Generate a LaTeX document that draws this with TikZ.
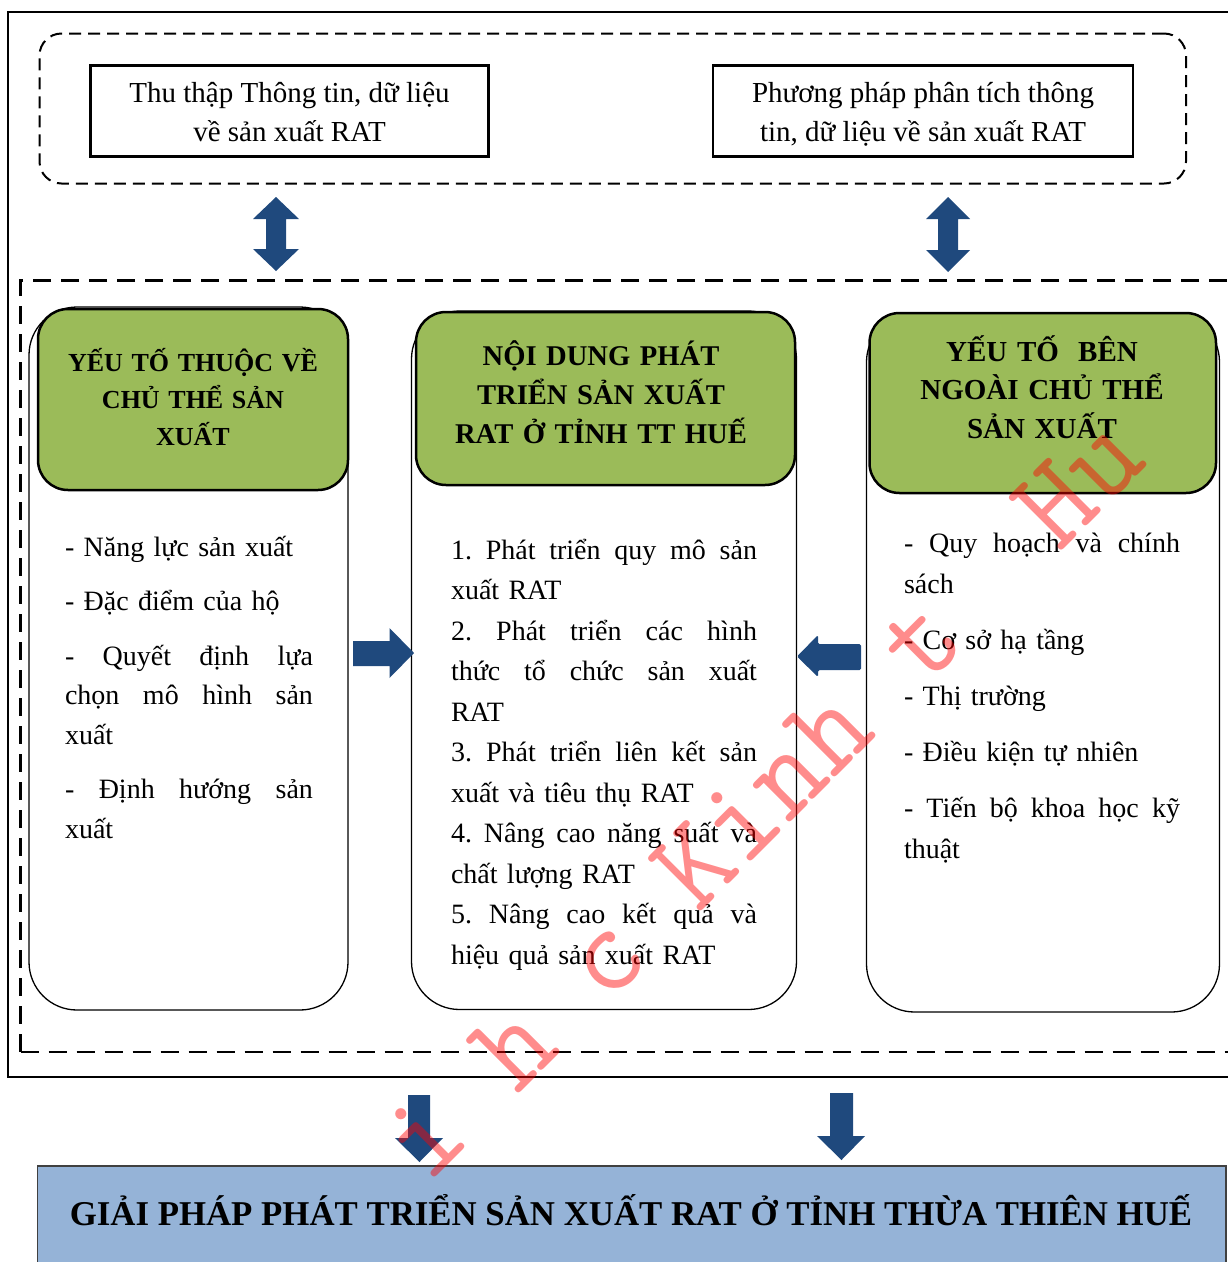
\documentclass[tikz,border=0pt]{standalone}
\usepackage{fontspec}
\setmainfont{Liberation Serif}
\definecolor{hgreen}{HTML}{9BBB59}
\definecolor{hblue}{HTML}{95B3D7}
\definecolor{arrowblue}{RGB}{31,73,125}
\newcommand{\jl}[2]{\leavevmode\hbox to #1{\spaceskip=0.25em plus 1fil\relax\xspaceskip=0.25em plus 1fil\relax #2}}
\begin{document}
\begin{tikzpicture}[x=1pt,y=-1pt,
  every node/.style={inner sep=0pt, outer sep=0pt},
  outerframe/.style={draw, line width=2.6pt},
  topframe/.style={draw, line width=2pt, dash pattern=on 12pt off 7pt, rounded corners=22pt},
  mainframe/.style={draw, line width=2.5pt, dash pattern=on 18pt off 10pt},
  infobox/.style={draw, line width=2.5pt, fill=white},
  colbox/.style={draw, line width=1.3pt, rounded corners=48pt, fill=white},
  headbox/.style={draw, line width=2.5pt, rounded corners=30pt, fill=hgreen},
  solbox/.style={draw=black!75, line width=1.5pt, fill=hblue},
  boxtext/.style={align=center, font=\fontsize{29}{39}\selectfont, anchor=north},
  headtext/.style={align=center, text width=330pt, anchor=north},
  coltext/.style={align=left, anchor=north west},
  blockarrow/.style={fill=arrowblue},
  watermark/.style={font=\ttfamily\fontsize{124}{124}\selectfont, text=red, text opacity=0.45, rotate=45}
]
\useasboundingbox (0,0) rectangle (1228,1262);
\clip (0,0) rectangle (1228,1262);

% frames
\node[outerframe, minimum width=1242pt, minimum height=1065pt] (outer) at (629,544.5) {};
\node[topframe, minimum width=1146.5pt, minimum height=150pt] (tframe) at (612.75,108.5) {};
\node[mainframe, minimum width=1239.5pt, minimum height=771.5pt] (mframe) at (640.25,666.25) {};

% top boxes
\node[infobox, minimum width=398pt, minimum height=91pt] (collect) at (289.5,111) {};
\node[infobox, minimum width=420pt, minimum height=91pt] (analyze) at (923,111) {};
\node[boxtext] (collecttext) at (289.5,74.5) {\rule{0pt}{28pt}Thu thập Thông tin, dữ liệu\\về sản xuất RAT};
\node[boxtext] (analyzetext) at (923,74.5) {\rule{0pt}{28pt}Phương pháp phân tích thông\\tin, dữ liệu về sản xuất RAT};

% column boxes
\node[colbox, minimum width=319pt, minimum height=703pt] (leftbox) at (188.5,658.5) {};
\node[colbox, minimum width=385pt, minimum height=698.5pt] (midbox) at (604,660.25) {};
\node[colbox, minimum width=353pt, minimum height=698pt] (rightbox) at (1043,663) {};
\node[headbox, minimum width=310pt, minimum height=181pt] (lefthead) at (193,399.5) {};
\node[headbox, minimum width=379pt, minimum height=173pt] (midhead) at (605.5,398.5) {};
\node[headbox, minimum width=346.5pt, minimum height=180pt] (righthead) at (1042.75,403) {};

% header texts
\node[headtext, font=\bfseries\fontsize{26}{37}\selectfont] (leftheadtext) at (193,343)
  {\rule{0pt}{28pt}YẾU TỐ THUỘC VỀ\\CHỦ THỂ SẢN\\XUẤT};
\node[headtext, font=\bfseries\fontsize{28.6}{39}\selectfont] (midheadtext) at (601,337)
  {\rule{0pt}{28pt}NỘI DUNG PHÁT\\TRIỂN SẢN XUẤT\\RAT Ở TỈNH TT HUẾ};
\node[headtext, font=\bfseries\fontsize{29}{38.7}\selectfont] (rightheadtext) at (1042,333)
  {\rule{0pt}{28pt}YẾU TỐ~~BÊN\\NGOÀI CHỦ THỂ\\SẢN XUẤT};

% column texts
\node[coltext, text width=248pt, font=\fontsize{28}{39.5}\selectfont] (lefttext) at (65,528)
  {\rule{0pt}{28pt}- Năng lực sản xuất\\[15pt]
   - Đặc điểm của hộ\\[15pt]
   \jl{248pt}{- Quyết định lựa}\\
   \jl{248pt}{chọn mô hình sản}\\
   xuất\\[15pt]
   \jl{248pt}{- Định hướng sản}\\
   xuất};
\node[coltext, text width=306pt, font=\fontsize{28}{40.5}\selectfont] (midtext) at (451,531)
  {\rule{0pt}{28pt}\jl{306pt}{1. Phát triển quy mô sản}\\
   xuất RAT\\
   \jl{306pt}{2. Phát triển các hình}\\
   \jl{306pt}{thức tổ chức sản xuất}\\
   RAT\\
   \jl{306pt}{3. Phát triển liên kết sản}\\
   xuất và tiêu thụ RAT\\
   \jl{306pt}{4. Nâng cao năng suất và}\\
   chất lượng RAT\\
   \jl{306pt}{5. Nâng cao kết quả và}\\
   hiệu quả sản xuất RAT};
\node[coltext, text width=276pt, font=\fontsize{28}{41}\selectfont] (righttext) at (904,524)
  {\rule{0pt}{28pt}\jl{276pt}{- Quy hoạch và chính}\\
   sách\\[15pt]
   - Cơ sở hạ tầng\\[15pt]
   - Thị trường\\[15pt]
   - Điều kiện tự nhiên\\[15pt]
   \jl{276pt}{- Tiến bộ khoa học kỹ}\\
   thuật};

% solution box
\node[solbox, minimum width=1188.5pt, minimum height=124pt] (solution) at (631.75,1228) {};
\node[anchor=base, font=\bfseries\fontsize{34.8}{40}\selectfont] (solutiontext) at (631,1225)
  {GIẢI PHÁP PHÁT TRIỂN SẢN XUẤT RAT Ở TỈNH THỪA THIÊN HUẾ};

% arrows
\fill[blockarrow] (276,197) -- (299,219) -- (286,219) -- (286,249) -- (299,249) -- (276,271)
  -- (253,249) -- (266,249) -- (266,219) -- (253,219) -- cycle;
\fill[blockarrow] (948,197) -- (970,219) -- (958,219) -- (958,250) -- (970,250) -- (948,272)
  -- (926,250) -- (938,250) -- (938,219) -- (926,219) -- cycle;
\fill[blockarrow] (353,641) -- (389.5,641) -- (389.5,628) -- (414,653) -- (389.5,678)
  -- (389.5,666) -- (353,666) -- cycle;
\fill[blockarrow, rounded corners=1.5pt] (861,644) -- (818,644) -- (818,635) -- (797,656.5)
  -- (818,677) -- (818,670) -- (861,670) -- cycle;
\fill[blockarrow] (408,1095) -- (430,1095) -- (430,1138) -- (443,1138) -- (419.5,1162)
  -- (395,1138) -- (408,1138) -- cycle;
\fill[blockarrow] (830,1093) -- (853,1093) -- (853,1136) -- (865,1136) -- (841.5,1160)
  -- (817,1136) -- (830,1136) -- cycle;

% watermark
\node[watermark] (wm) at (762,798) {i~h~c~Kinh~t~~Hu};
\end{tikzpicture}
\end{document}
